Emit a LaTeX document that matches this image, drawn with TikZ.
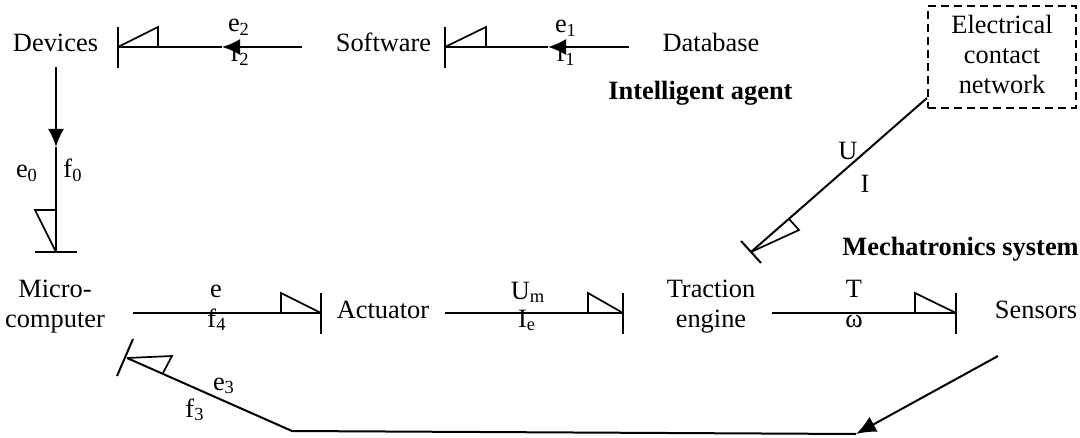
\documentclass[tikz,border=0pt]{standalone}
\usepackage{fontspec}
\setmainfont{Liberation Serif}
\usetikzlibrary{arrows.meta}
\begin{document}
\begin{tikzpicture}[x=0.5pt,y=-0.5pt,
  lbl/.style={anchor=base,inner sep=0pt,font=\fontsize{13.2}{15}\selectfont},
  two/.style={lbl,align=center},
  bold/.style={lbl,anchor=base west,font=\fontsize{13.2}{15}\selectfont\bfseries},
  bond/.style={line width=1pt},
  half/.style={line width=0.85pt,line join=miter},
  arr/.style={line width=1pt,-{Latex[length=9pt,width=8pt]}},
  bigarr/.style={line width=1pt,-{Latex[length=10pt,width=8.5pt]}},
  netbox/.style={draw,line width=0.7pt,dash pattern=on 4pt off 2.5pt,
    minimum width=74pt,minimum height=51pt,inner sep=0pt},
]
\useasboundingbox (0,0) rectangle (1080,438);

% nodes
\node[lbl] (dev) at (55.5,52) {Devices};
\node[lbl] (sw) at (383.5,52) {Software};
\node[lbl] (db) at (711,52) {Database};
\node[netbox] (net) at (1002,57) {};
\node[two] (nettext) at (1002,94) {Electrical\\contact\\network};
\node[bold] (ia) at (608,100) {Intelligent agent};
\node[bold] (mech) at (842,256) {Mechatronics system};
\node[two] (mc) at (55,327) {Micro-\\computer};
\node[lbl] (act) at (383,318) {Actuator};
\node[two] (te) at (711,327) {Traction\\engine};
\node[lbl] (sen) at (1036,318) {Sensors};

% bond Software -> Devices
\coordinate (b2s) at (302,47);
\coordinate (b2m) at (222,47);
\coordinate (b2e) at (118,47);
\draw[arr] (b2s) -- (b2m);
\draw[bond] (b2m) -- (b2e);
\draw[bond] (118,27) -- (118,68);
\draw[half] (b2e) -- (158,27) -- (158,47);
\node[lbl] (e2) at (239,32) {e\textsubscript{2}};
\node[lbl] (f2) at (240,62) {f\textsubscript{2}};

% bond Database -> Software
\coordinate (b1s) at (629,47);
\coordinate (b1m) at (548,47);
\coordinate (b1e) at (445,47);
\draw[arr] (b1s) -- (b1m);
\draw[bond] (b1m) -- (b1e);
\draw[bond] (445,27) -- (445,68);
\draw[half] (b1e) -- (486,27) -- (486,47);
\node[lbl] (e1) at (566,33) {e\textsubscript{1}};
\node[lbl] (f1) at (566,62) {f\textsubscript{1}};

% bond Devices -> Microcomputer
\coordinate (b0s) at (56,67);
\coordinate (b0m) at (56,147);
\coordinate (b0e) at (56,252);
\draw[arr] (b0s) -- (b0m);
\draw[bond] (b0m) -- (b0e);
\draw[bond] (35,252) -- (77,252);
\draw[half] (b0e) -- (35,210) -- (56,210);
\node[lbl] (e0) at (27,177) {e\textsubscript{0}};
\node[lbl] (f0) at (73,177) {f\textsubscript{0}};

% bond Microcomputer -> Actuator
\coordinate (b4s) at (133,313);
\coordinate (b4e) at (321,313);
\draw[bond] (b4s) -- (b4e);
\draw[bond] (321,293) -- (321,334);
\draw[half] (b4e) -- (281,293) -- (281,313);
\node[lbl] (e4) at (216,297) {e};
\node[lbl] (f4) at (217,327) {f\textsubscript{4}};

% bond Actuator -> Traction engine
\coordinate (b5s) at (445,313);
\coordinate (b5e) at (623,313);
\draw[bond] (b5s) -- (b5e);
\draw[bond] (623,293) -- (623,334);
\draw[half] (b5e) -- (588,293) -- (588,313);
\node[lbl] (um) at (528,299) {U\textsubscript{m}};
\node[lbl] (ie) at (527,327) {I\textsubscript{e}};

% bond Traction engine -> Sensors
\coordinate (b6s) at (772,313);
\coordinate (b6e) at (956,313);
\draw[bond] (b6s) -- (b6e);
\draw[bond] (956,293) -- (956,334);
\draw[half] (b6e) -- (915,293) -- (915,313);
\node[lbl] (tq) at (854,297) {T};
\node[lbl] (om) at (854,327) {ω};

% bond Electrical network -> Traction engine
\coordinate (b7s) at (927,98);
\coordinate (b7e) at (751,252);
\draw[bond] (b7s) -- (b7e);
\draw[bond] (741,241) -- (761,263);
\draw[half] (b7e) -- (799,230) -- (789,219);
\node[lbl] (uu) at (848,160) {U};
\node[lbl] (ii) at (865,192) {I};

% feedback Sensors -> Microcomputer
\coordinate (b3s) at (998,356);
\coordinate (b3c) at (856,434);
\coordinate (b3k) at (292,431);
\coordinate (b3e) at (127,358);
\draw[bigarr] (b3s) -- (b3c);
\draw[bond] (b3c) -- (b3k) -- (b3e);
\draw[bond] (117,376) -- (133,339);
\draw[half] (b3e) -- (172,356) -- (163,373);
\node[lbl] (e3) at (224,390) {e\textsubscript{3}};
\node[lbl] (f3) at (195,417) {f\textsubscript{3}};
\end{tikzpicture}
\end{document}
